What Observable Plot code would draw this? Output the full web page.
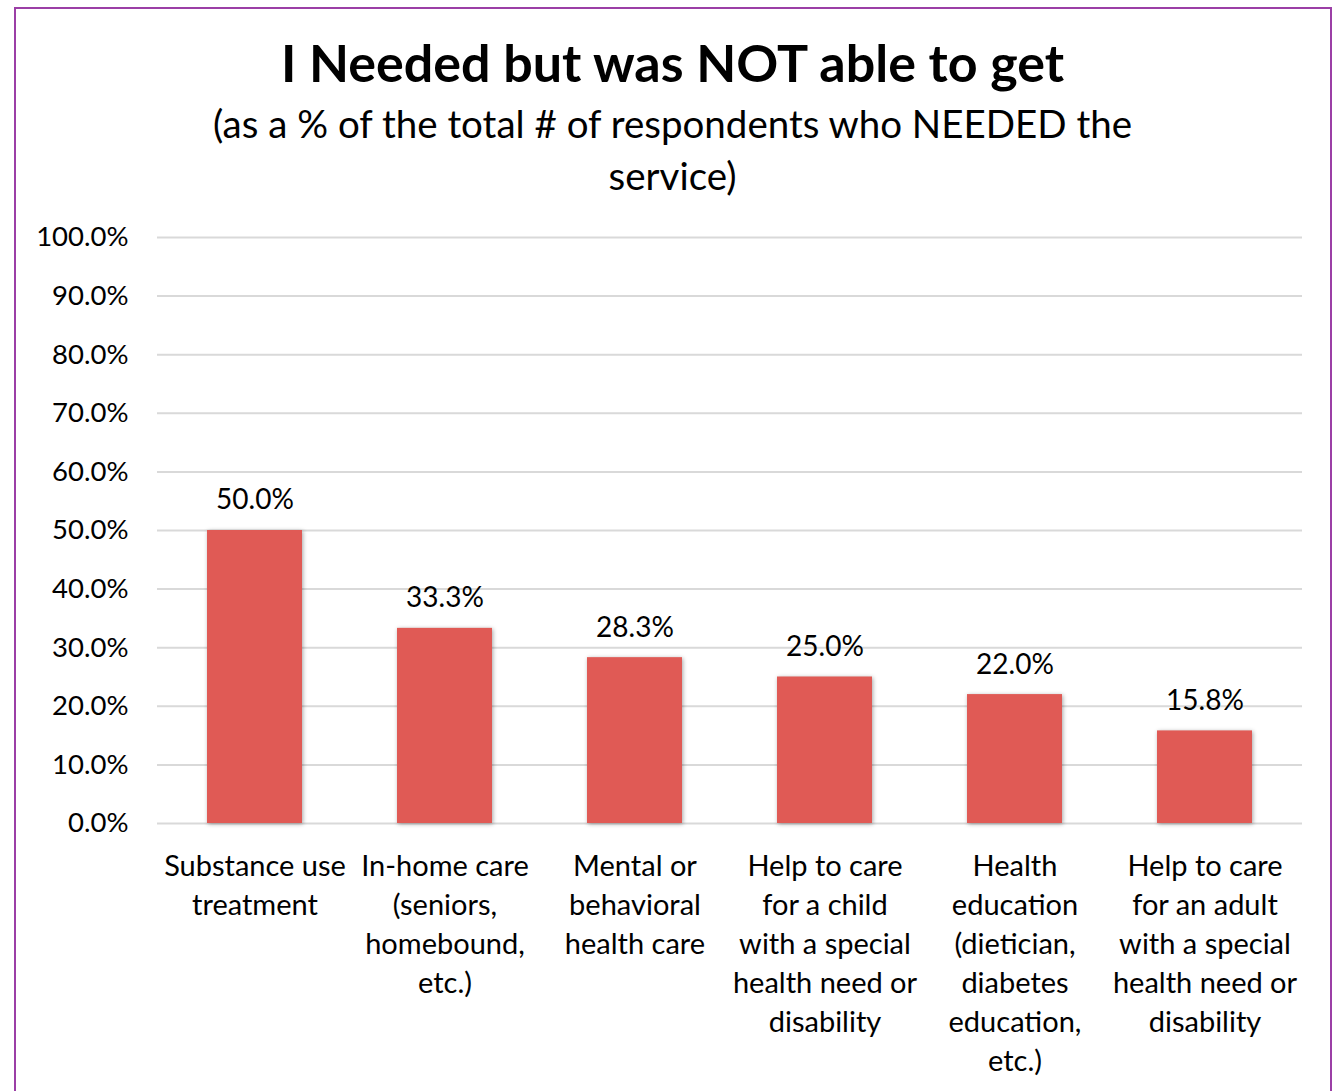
<!DOCTYPE html>
<html>
<head>
<meta charset="utf-8">
<script src="https://cdn.jsdelivr.net/npm/d3@7"></script>
<script src="https://cdn.jsdelivr.net/npm/@observablehq/plot@0.6"></script>
<style>
  html, body { margin: 0; padding: 0; background: #fff; }
  body { width: 1335px; height: 1091px; position: relative; overflow: hidden; font-family: Lato, "Open Sans", sans-serif; }
  #frame { position: absolute; left: 14px; top: 7px; width: 1318px; height: 1200px; border: 2px solid #9b3fa6; box-sizing: border-box; }
  #title { position: absolute; left: 0; width: 1345px; top: 32px; text-align: center; font-weight: 700; font-size: 52px; color: #000; line-height: 60px; }
  #subtitle { position: absolute; left: 0; width: 1345px; top: 97px; text-align: center; font-size: 38.5px; color: #000; line-height: 52px; }
  #chart { position: absolute; left: 0; top: 200px; }
  #chart g[aria-label="bar"] rect { filter: drop-shadow(1px 1px 2px rgba(0,0,0,0.35)); }
</style>
</head>
<body>
<div id="frame"></div>
<div id="title">I Needed but was NOT able to get</div>
<div id="subtitle">(as a % of the total # of respondents who NEEDED the<br>service)</div>
<div id="chart"></div>
<script>
const categories = [
  "Substance use\ntreatment",
  "In-home care\n(seniors,\nhomebound,\netc.)",
  "Mental or\nbehavioral\nhealth care",
  "Help to care\nfor a child\nwith a special\nhealth need or\ndisability",
  "Health\neducation\n(dietician,\ndiabetes\neducation,\netc.)",
  "Help to care\nfor an adult\nwith a special\nhealth need or\ndisability"
];
const values = [50.0, 33.3, 28.3, 25.0, 22.0, 15.8];
const yTicks = [0, 10, 20, 30, 40, 50, 60, 70, 80, 90, 100];

const data = categories.map((c, i) => ({category: c, value: values[i]}));

const chart = Plot.plot({
  width: 1335,
  height: 891,
  marginTop: 37,
  marginBottom: 268,
  marginLeft: 157,
  marginRight: 33,
  style: { fontFamily: 'Lato, "Open Sans", sans-serif', color: "#000", background: "transparent" },
  x: { domain: categories, paddingInner: 0.5, paddingOuter: 0.25, label: null },
  y: { domain: [0, 100], label: null },
  marks: [
    Plot.ruleY(yTicks, { stroke: "#d9d9d9", strokeWidth: 2 }),
    Plot.barY(data, { x: "category", y: "value", fill: "#e05a55" }),
    Plot.text(data, { x: "category", y: "value", text: d => d.value.toFixed(1) + "%", dy: -30, fontSize: 28, fill: "#000" }),
    Plot.axisY(yTicks, { tickSize: 0, tickPadding: 29, tickFormat: d => d.toFixed(1) + "%", fontSize: 27.5, label: null }),
    Plot.axisX({ tickSize: 0, tickPadding: 25, fontSize: 29, lineHeight: 1.345, label: null, textAnchor: "middle" })
  ]
});
document.getElementById("chart").appendChild(chart);
</script>
</body>
</html>
